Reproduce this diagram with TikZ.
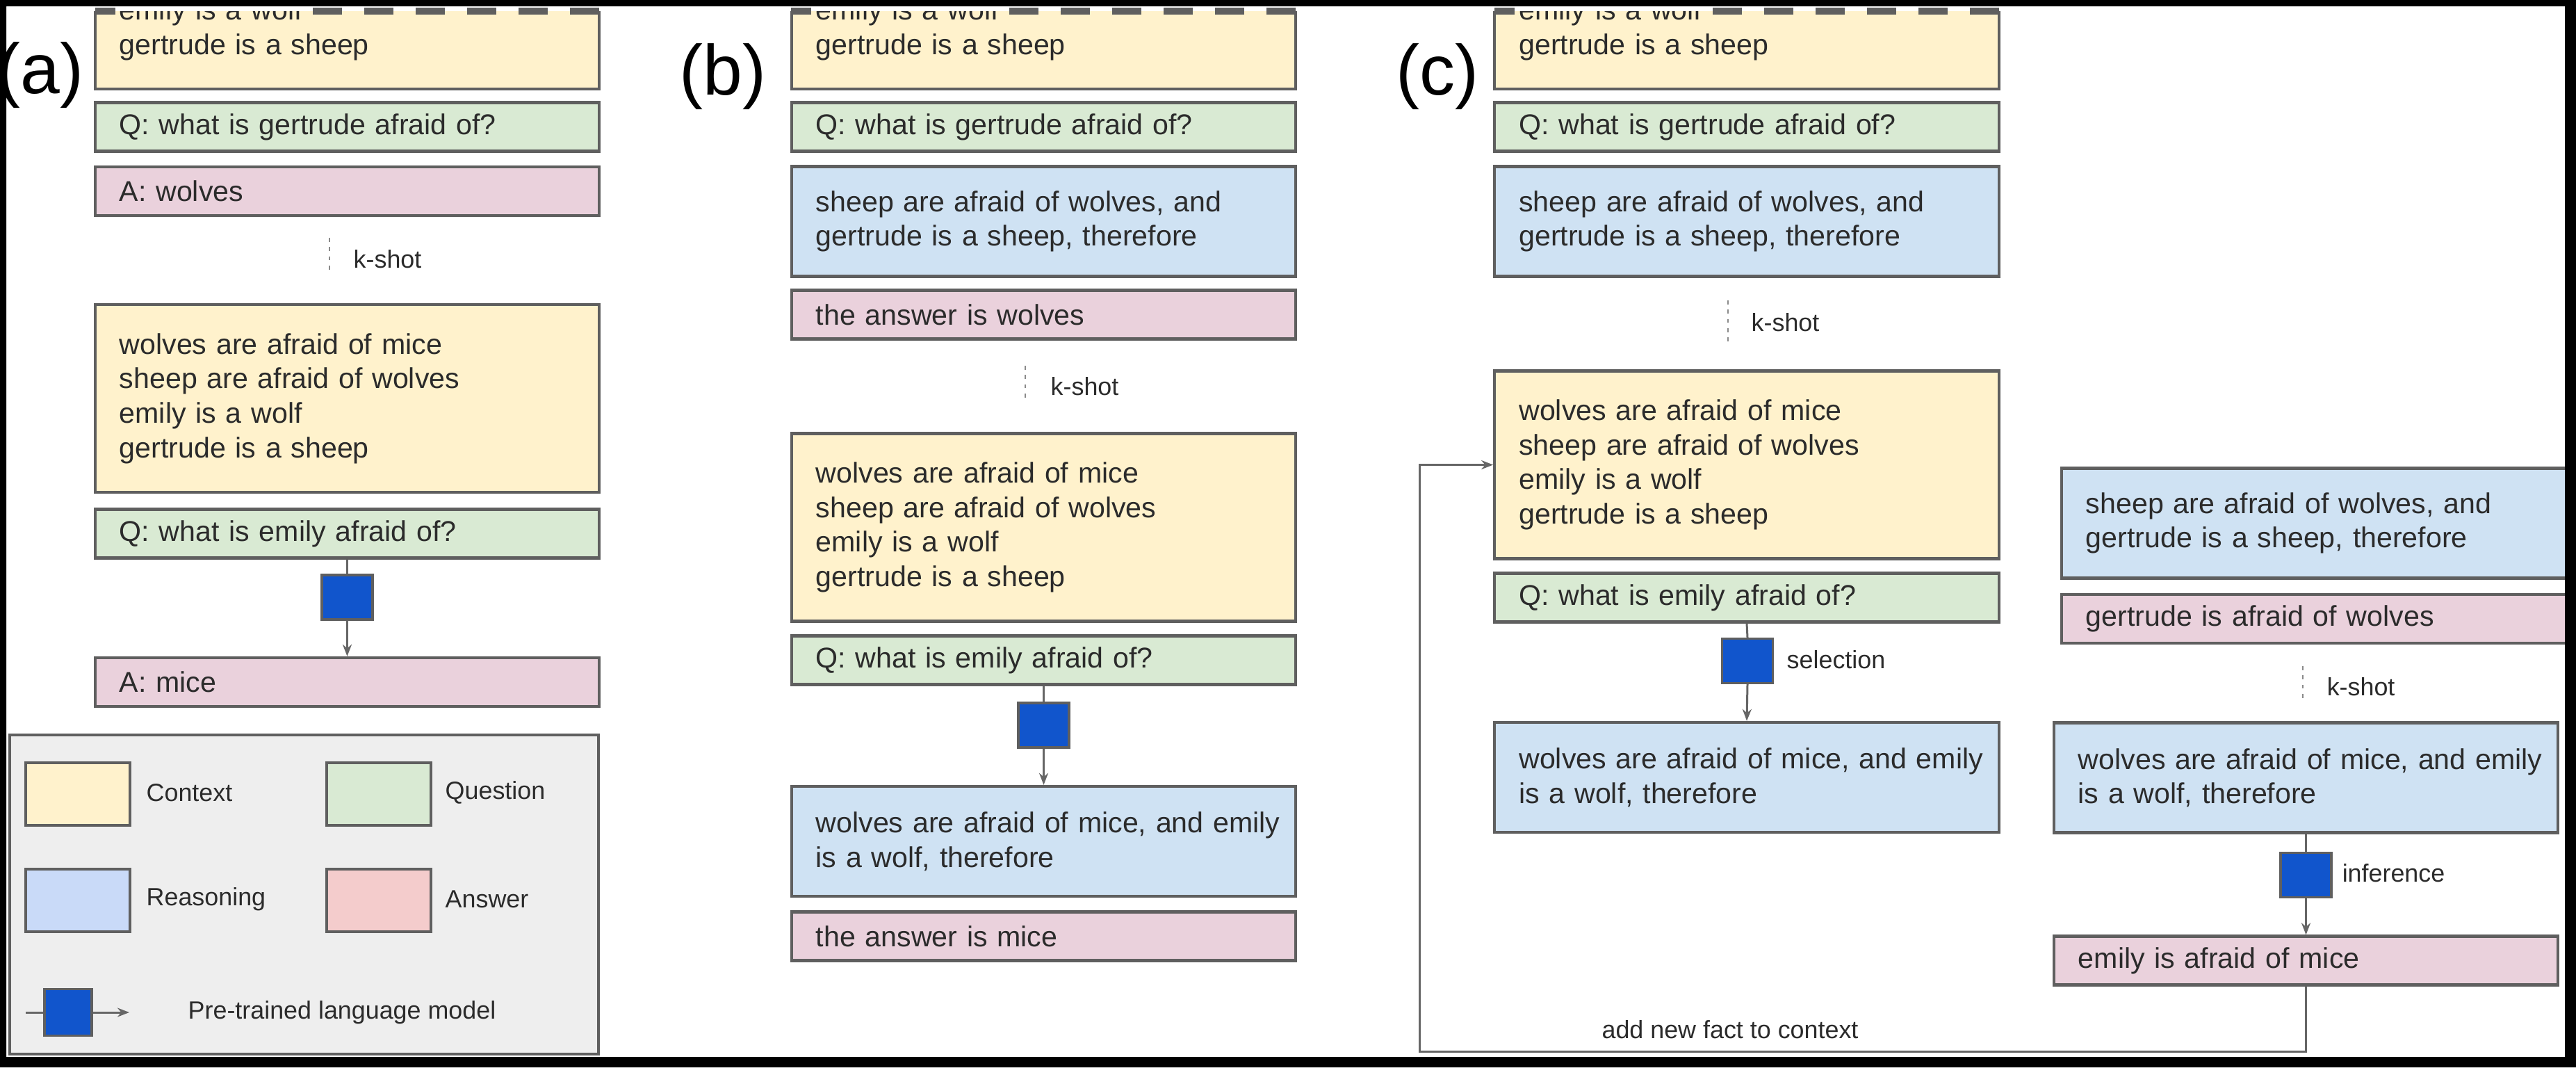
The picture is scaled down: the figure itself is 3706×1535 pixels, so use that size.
\documentclass[tikz,border=0pt]{standalone}
\usepackage{fontspec}
\setmainfont{Liberation Sans}
\usetikzlibrary{arrows.meta}
\definecolor{ctxc}{HTML}{FFF2CC}
\definecolor{qc}{HTML}{D9EAD3}
\definecolor{rc}{HTML}{CFE2F3}
\definecolor{ac}{HTML}{EAD1DC}
\definecolor{lrc}{HTML}{C9DAF8}
\definecolor{lac}{HTML}{F4CCCC}
\definecolor{lmc}{HTML}{1155CC}
\definecolor{legc}{HTML}{EEEEEE}
\definecolor{bordc}{HTML}{5F5F5F}
\definecolor{linec}{HTML}{666666}
\definecolor{dotc}{HTML}{8A8A8A}
\definecolor{txtc}{HTML}{2B2B2B}
\newcommand\boxfont{\fontsize{11.7}{14.1}\selectfont}
\newcommand\smallf{\fontsize{10.2}{12}\selectfont}
\newcommand\labf{\fontsize{29}{34}\selectfont}
\tikzset{
  pbox/.style={draw=bordc, line width=1.2pt, minimum width=7.25cm, text width=6.55cm,
    inner xsep=0.35cm, inner ysep=0pt, align=left, font=\boxfont, text=txtc},
  wbox/.style={pbox, minimum width=7.55cm, text width=6.85cm},
  ctx/.style={fill=ctxc, minimum height=2.70cm},
  qst/.style={fill=qc, minimum height=0.70cm},
  ans/.style={fill=ac, minimum height=0.70cm},
  rsn/.style={fill=rc, minimum height=1.58cm},
  lm/.style={draw=bordc, line width=0.9pt, fill=lmc, minimum width=0.73cm, minimum height=0.64cm, inner sep=0pt},
  conn/.style={draw=linec, line width=0.85pt},
  arr/.style={conn, -{Stealth[length=0.17cm, width=0.13cm]}},
  kdots/.style={draw=dotc, line width=0.7pt, dash pattern=on 1.6pt off 2.2pt},
  smalltxt/.style={font=\smallf, text=txtc, inner sep=0pt},
  labtxt/.style={font=\labf, text=black, inner sep=0pt},
  torn/.style={draw=bordc, line width=3pt, dash pattern=on 0.42cm off 0.32cm},
  swatch/.style={draw=bordc, line width=1.2pt, minimum width=1.5cm, minimum height=0.9cm, inner sep=0pt},
}
\begin{document}
\begin{tikzpicture}[x=0.01cm, y=-0.01cm]
\useasboundingbox (0,0) rectangle (3706,1535);
\fill[white] (0,0) rectangle (3706,1535);

% ---------- panel labels
\node[labtxt] (labA) at (58,108) {(a)};
\node[labtxt] (labB) at (1040,110) {(b)};
\node[labtxt] (labC) at (2068,110) {(c)};

% ---------- torn context boxes
\begin{scope}
\clip (120,16) rectangle (3000,200);
\node[pbox, ctx] (ctxA1) at (499.5,-7) {wolves are afraid of mice\\sheep are afraid of wolves\\emily is a wolf\\gertrude is a sheep};
\node[pbox, ctx] (ctxB1) at (1501.5,-7) {wolves are afraid of mice\\sheep are afraid of wolves\\emily is a wolf\\gertrude is a sheep};
\node[pbox, ctx] (ctxC1) at (2513,-7) {wolves are afraid of mice\\sheep are afraid of wolves\\emily is a wolf\\gertrude is a sheep};
\end{scope}
\draw[torn] (137,16) -- (166,16);
\draw[torn] (862,16) -- (433,16);
\draw[torn] (1138,16) -- (1167,16);
\draw[torn] (1864,16) -- (1434,16);
\draw[torn] (2150,16) -- (2179,16);
\draw[torn] (2876,16) -- (2446,16);

% ---------- panel (a)
\node[pbox, qst] (qA1) at (499.5,182.5) {Q: what is gertrude afraid of?};
\node[pbox, ans] (aA1) at (499.5,275) {A: wolves};
\coordinate (kA1) at (474,342);
\coordinate (kA2) at (474,395);
\draw[kdots] (kA1) -- (kA2);
\node[smalltxt, anchor=west] (kA) at (508,373) {k-shot};
\node[pbox, ctx] (ctxA2) at (499.5,573) {wolves are afraid of mice\\sheep are afraid of wolves\\emily is a wolf\\gertrude is a sheep};
\node[pbox, qst] (qA2) at (499.5,767.5) {Q: what is emily afraid of?};
\node[lm] (lmA) at (499.5,859) {};
\node[pbox, ans] (aA2) at (499.5,981) {A: mice};
\draw[conn] (qA2.south) -- (lmA.north);
\draw[arr] (lmA.south) -- (aA2.north);

% ---------- legend
\node[draw=bordc, line width=1.2pt, fill=legc, minimum width=8.47cm, minimum height=4.59cm, inner sep=0pt] (legend) at (437.5,1286.5) {};
\node[swatch, fill=ctxc] (swC) at (112,1142) {};
\node[swatch, fill=qc] (swQ) at (545,1142) {};
\node[swatch, fill=lrc] (swR) at (112,1295) {};
\node[swatch, fill=lac] (swA) at (545,1295) {};
\node[smalltxt, anchor=west] (lgC) at (210,1140) {Context};
\node[smalltxt, anchor=west] (lgQ) at (640,1140) {Question};
\node[smalltxt, anchor=west] (lgR) at (210,1293) {Reasoning};
\node[smalltxt, anchor=west] (lgA) at (640,1293) {Answer};
\coordinate (lgS) at (37,1456);
\coordinate (lgE) at (186,1456);
\node[lm, minimum width=0.68cm, minimum height=0.67cm] (lgLM) at (98,1456) {};
\draw[conn] (lgS) -- (lgLM.west);
\draw[arr] (lgLM.east) -- (lgE);
\node[smalltxt, anchor=west] (lgT) at (270,1456) {Pre-trained language model};

% ---------- panel (b)
\node[pbox, qst] (qB1) at (1501.5,182.5) {Q: what is gertrude afraid of?};
\node[pbox, rsn] (rB1) at (1501.5,318.5) {sheep are afraid of wolves, and\\gertrude is a sheep, therefore};
\node[pbox, ans] (aB1) at (1501.5,452.5) {the answer is wolves};
\coordinate (kB1) at (1475,526);
\coordinate (kB2) at (1475,579);
\draw[kdots] (kB1) -- (kB2);
\node[smalltxt, anchor=west] (kB) at (1511,556) {k-shot};
\node[pbox, ctx] (ctxB2) at (1501.5,758.5) {wolves are afraid of mice\\sheep are afraid of wolves\\emily is a wolf\\gertrude is a sheep};
\node[pbox, qst] (qB2) at (1501.5,949.5) {Q: what is emily afraid of?};
\node[lm] (lmB) at (1501.5,1043) {};
\node[pbox, rsn] (rB2) at (1501.5,1210) {\mbox{wolves are afraid of mice, and emily}\\is a wolf, therefore};
\node[pbox, ans] (aB2) at (1501.5,1346.5) {the answer is mice};
\draw[conn] (qB2.south) -- (lmB.north);
\draw[arr] (lmB.south) -- (rB2.north);

% ---------- panel (c)
\node[pbox, qst] (qC1) at (2513,182.5) {Q: what is gertrude afraid of?};
\node[pbox, rsn] (rC1) at (2513,318.5) {sheep are afraid of wolves, and\\gertrude is a sheep, therefore};
\coordinate (kC1) at (2486,432);
\coordinate (kC2) at (2486,492);
\draw[kdots] (kC1) -- (kC2);
\node[smalltxt, anchor=west] (kC) at (2519,464) {k-shot};
\node[pbox, ctx] (ctxC2) at (2513,668.5) {wolves are afraid of mice\\sheep are afraid of wolves\\emily is a wolf\\gertrude is a sheep};
\node[pbox, qst] (qC2) at (2513,859.5) {Q: what is emily afraid of?};
\node[lm] (lmC) at (2514,950.5) {};
\node[smalltxt, anchor=west] (selT) at (2570,949) {selection};
\node[pbox, rsn] (rC2) at (2513,1118) {\mbox{wolves are afraid of mice, and emily}\\is a wolf, therefore};
\draw[conn] (qC2.south) -- (lmC.north);
\draw[arr] (lmC.south) -- (rC2.north);

% right column
\node[wbox, rsn] (rC3) at (3343.5,752.5) {sheep are afraid of wolves, and\\gertrude is a sheep, therefore};
\node[wbox, ans] (aC3) at (3343.5,890) {gertrude is afraid of wolves};
\coordinate (kD1) at (3313,958);
\coordinate (kD2) at (3313,1009);
\draw[kdots] (kD1) -- (kD2);
\node[smalltxt, anchor=west] (kD) at (3347,988) {k-shot};
\node[pbox, rsn] (rC4) at (3317.5,1118.5) {\mbox{wolves are afraid of mice, and emily}\\is a wolf, therefore};
\node[lm] (lmD) at (3317.5,1258.5) {};
\node[smalltxt, anchor=west] (infT) at (3369,1256) {inference};
\node[pbox, ans] (aC4) at (3317.5,1381.5) {emily is afraid of mice};
\draw[conn] (rC4.south) -- (lmD.north);
\draw[arr] (lmD.south) -- (aC4.north);

% feedback loop
\coordinate (fbc) at (2042,1512);
\draw[arr] (aC4.south) |- (fbc) |- (ctxC2.west);
\node[smalltxt] (fbT) at (2489,1481) {add new fact to context};

% ---------- black frame
\fill[black, even odd rule] (0,0) rectangle (3706,1535) (9,9) rectangle (3690,1520);
\end{tikzpicture}
\end{document}
